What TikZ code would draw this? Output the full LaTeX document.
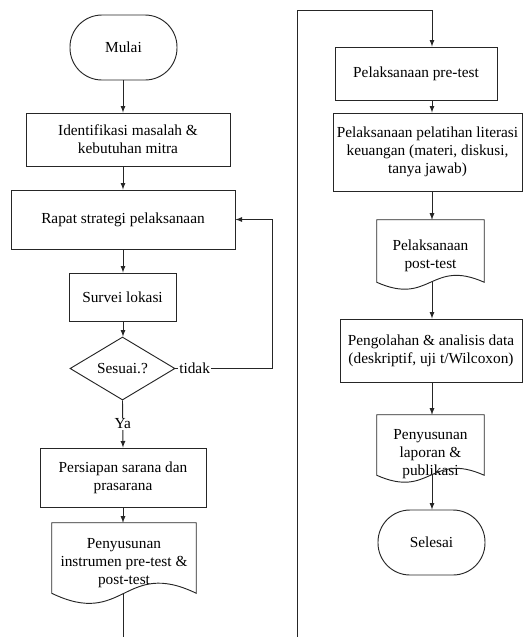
\documentclass[tikz,border=0pt]{standalone}
\usepackage{fontspec}
\setmainfont{Liberation Serif}
\usetikzlibrary{shapes.geometric,calc}

\begin{document}
\begin{tikzpicture}[x=0.75pt, y=-0.75pt, >=latex,
  every node/.style={font=\fontsize{11.5}{13.5}\selectfont, align=center},
  line/.style={draw=black!85, line width=0.7pt},
  proc/.style={line, rectangle, inner sep=0pt},
  term/.style={line, rectangle, rounded corners=32*\px, inner sep=0pt},
  decide/.style={line, diamond, inner sep=0pt},
  doc/.style={rectangle, inner sep=0pt},
  cut/.style={fill=white, inner sep=1pt}
]
  \def\px{0.75pt}
  \useasboundingbox (0,0) rectangle (523,637);
  \clip (0,0) rectangle (523,637);
  \coordinate (L) at (123,0);
  \coordinate (R) at (432,0);
  \coordinate (fbk) at (272,0);
  \coordinate (loopbot) at (297,660);
  \coordinate (looptop) at (297,10);

  \node[term, minimum width=107*\px, minimum height=65*\px] (mulai) at (123.5,47.5) {Mulai};
  \node[proc, minimum width=204*\px, minimum height=53*\px] (ident) at (128,139.5)
    {Identifikasi masalah \&\\ kebutuhan mitra};
  \node[proc, minimum width=224*\px, minimum height=59*\px] (rapat) at (123,219.5)
    {Rapat strategi pelaksanaan};
  \node[proc, minimum width=107*\px, minimum height=48*\px] (survei) at (122.5,297) {Survei lokasi};
  \node[decide, minimum width=105*\px, minimum height=63*\px] (sesuai) at (122.5,368.5) {Sesuai.?};
  \node[proc, minimum width=166*\px, minimum height=59*\px] (persiapan) at (123,477.5)
    {Persiapan sarana dan\\ prasarana};
  \node[doc, minimum width=144*\px, minimum height=80*\px] (instr) at (124,563)
    {Penyusunan\\ instrumen pre-test \&\\ post-test};

  \node[proc, minimum width=162*\px, minimum height=53*\px] (pretest) at (416,73.5)
    {Pelaksanaan pre-test};
  \node[proc, minimum width=189*\px, minimum height=78*\px] (pelatihan) at (427.5,152)
    {Pelaksanaan pelatihan literasi\\ keuangan (materi, diskusi,\\ tanya jawab)};
  \node[doc, minimum width=107*\px, minimum height=72*\px] (posttest) at (430.5,256)
    {Pelaksanaan\\ post-test};
  \node[proc, minimum width=182*\px, minimum height=63*\px] (olah) at (431,350.5)
    {Pengolahan \& analisis data\\ (deskriptif, uji t/Wilcoxon)};
  \node[doc, minimum width=107*\px, minimum height=78*\px] (laporan) at (430.5,454)
    {Penyusunan\\ laporan \&\\ publikasi};
  \node[term, minimum width=107*\px, minimum height=65*\px] (selesai) at (431.5,542.5) {Selesai};

  \foreach \d/\c/\s in {instr/35/10, posttest/24/10, laporan/24/18} {
    \coordinate (\d-w) at ($(\d.south)+(0,-\s)$);
    \draw[line]
      (\d.north west) -- (\d.north east) -- (\d-w -| \d.east)
      .. controls ($(\d-w)+(0,-\c)$) and ($(\d-w)+(0,\c)$) .. (\d-w -| \d.west)
      -- cycle
    ;
  }

  \foreach \a/\b in {mulai.south/ident, ident.south/rapat, rapat.south/survei,
                     survei.south/sesuai, persiapan.south/instr}
    \draw[line, ->] (L |- \a) -- (L |- \b.north);
  \foreach \a/\b in {pretest.south/pelatihan, pelatihan.south/posttest, posttest-w/olah,
                     olah.south/laporan, laporan-w/selesai}
    \draw[line, ->] (R |- \a) -- (R |- \b.north);

  \draw[line, ->]
    (sesuai.south) -- node[cut] {Ya} (L |- persiapan.north)
  ;
  \draw[line, ->]
    (sesuai.east)
    node[cut, anchor=west, xshift=2*\px] {tidak}
    -- (fbk |- sesuai.east) -- (fbk |- rapat.east) -- (rapat.east)
  ;
  \draw[line, ->]
    (L |- instr-w) -- (L |- loopbot) -- (loopbot) -- (looptop)
    -- (R |- looptop) -- (R |- pretest.north)
  ;
\end{tikzpicture}
\end{document}
